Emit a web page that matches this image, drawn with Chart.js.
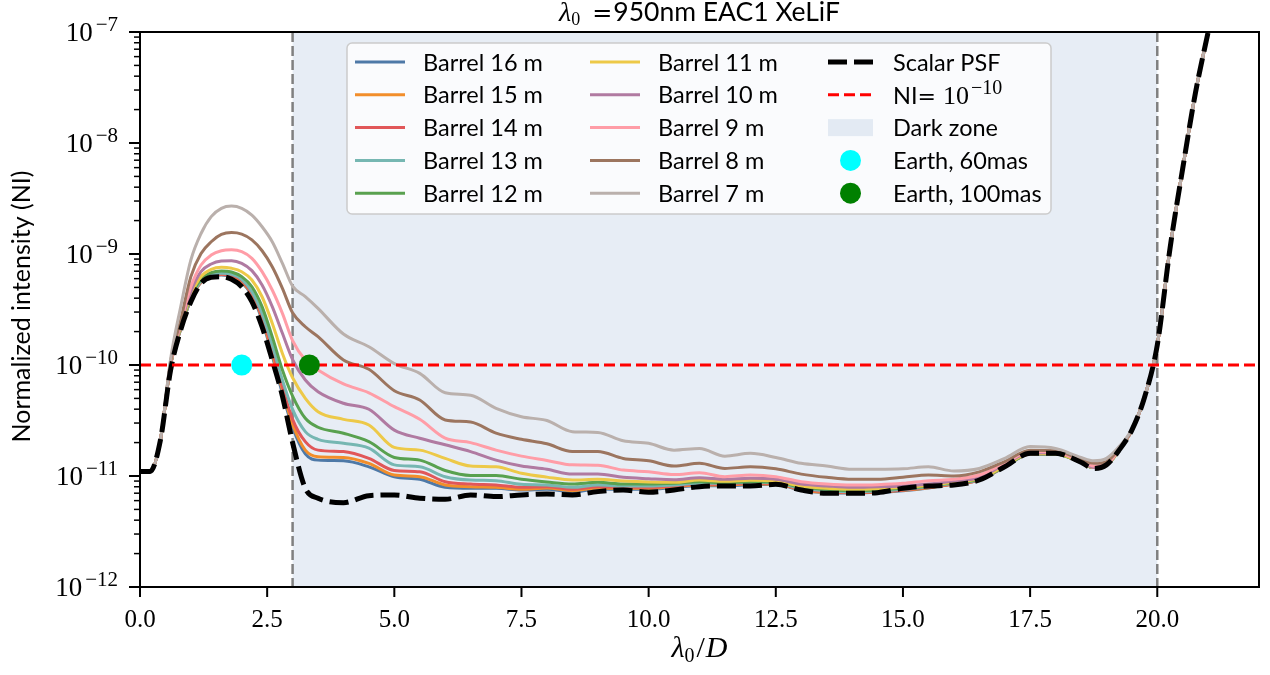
<!DOCTYPE html>
<html>
<head>
<meta charset="utf-8">
<title>EAC1 XeLiF barrel comparison</title>
<script src="https://cdn.jsdelivr.net/npm/chart.js@4"></script>
<style>
  html, body { margin: 0; padding: 0; background: #ffffff; }
  canvas { display: block; }
</style>
</head>
<body>
<canvas id="niChart" width="1270" height="675"></canvas>
<script>
// Separation in lambda0/D where every curve was read
const separation = [0, 0.2, 0.4, 0.6, 0.8, 1.0, 1.2, 1.4, 1.6, 1.8, 2.0, 2.2, 2.4, 2.6, 2.8, 3.0, 3.25, 3.5,
  4.0, 4.5, 5.0, 5.5, 6.0, 6.5, 7.0, 7.5, 8.0, 8.5, 9.0, 9.5, 10.0, 10.5, 11.0, 11.5, 12.0, 12.5, 13.0, 13.5,
  14.0, 14.5, 15.0, 15.5, 16.0, 16.5, 17.0, 17.5, 18.0, 18.5, 18.75, 19.0, 19.25, 19.5, 19.75, 20.0, 20.25,
  20.5, 20.75, 21.0, 21.25];

// Normalized intensity per curve
const scalarPSF = [1.10e-11, 1.10e-11, 2.09e-11, 8.91e-11, 2.07e-10, 3.72e-10, 5.44e-10, 6.17e-10, 6.25e-10, 5.92e-10,
  5.07e-10, 3.72e-10, 2.21e-10, 1.11e-10, 5.25e-11, 2.00e-11, 7.76e-12, 6.31e-12, 5.75e-12, 6.65e-12,
  6.75e-12, 6.31e-12, 6.17e-12, 6.75e-12, 6.52e-12, 6.75e-12, 6.89e-12, 6.75e-12, 7.23e-12, 7.48e-12,
  7.13e-12, 7.48e-12, 8.02e-12, 8.13e-12, 8.13e-12, 8.41e-12, 7.48e-12, 6.98e-12, 6.98e-12, 7.08e-12,
  7.74e-12, 8.13e-12, 8.30e-12, 9.20e-12, 1.21e-11, 1.60e-11, 1.60e-11, 1.33e-11, 1.17e-11, 1.26e-11,
  1.71e-11, 2.59e-11, 5.13e-11, 1.51e-10, 1.12e-9, 5.89e-9, 2.82e-8, 1.0e-7, 3.5e-7];

const barrel16 = [1.10e-11, 1.10e-11, 2.09e-11, 1.00e-10, 2.09e-10, 3.87e-10, 5.56e-10, 6.34e-10, 6.47e-10, 6.25e-10,
  5.56e-10, 4.25e-10, 2.54e-10, 1.21e-10, 5.56e-11, 2.75e-11, 1.58e-11, 1.39e-11, 1.37e-11, 1.21e-11,
  9.86e-12, 9.33e-12, 7.91e-12, 7.74e-12, 7.74e-12, 7.48e-12, 7.59e-12, 7.18e-12, 7.64e-12, 7.59e-12,
  7.59e-12, 7.91e-12, 8.18e-12, 8.18e-12, 8.36e-12, 8.41e-12, 7.43e-12, 7.08e-12, 7.03e-12, 7.13e-12,
  7.38e-12, 7.80e-12, 8.47e-12, 9.20e-12, 1.21e-11, 1.58e-11, 1.58e-11, 1.33e-11, 1.19e-11, 1.25e-11,
  1.71e-11, 2.59e-11, 5.13e-11, 1.51e-10, 1.12e-9, 5.89e-9, 2.82e-8, 1.0e-7, 3.5e-7];

const barrel15 = [1.10e-11, 1.10e-11, 2.09e-11, 1.00e-10, 2.11e-10, 3.91e-10, 5.60e-10, 6.38e-10, 6.52e-10, 6.34e-10,
  5.64e-10, 4.34e-10, 2.64e-10, 1.27e-10, 5.96e-11, 2.92e-11, 1.71e-11, 1.49e-11, 1.47e-11, 1.30e-11,
  1.02e-11, 9.86e-12, 8.30e-12, 8.02e-12, 7.91e-12, 7.59e-12, 7.80e-12, 7.38e-12, 7.80e-12, 7.74e-12,
  7.74e-12, 8.02e-12, 8.30e-12, 8.30e-12, 8.47e-12, 8.47e-12, 7.48e-12, 7.13e-12, 7.08e-12, 7.18e-12,
  7.43e-12, 7.85e-12, 8.47e-12, 9.20e-12, 1.21e-11, 1.58e-11, 1.58e-11, 1.33e-11, 1.19e-11, 1.25e-11,
  1.71e-11, 2.59e-11, 5.13e-11, 1.51e-10, 1.12e-9, 5.89e-9, 2.82e-8, 1.0e-7, 3.5e-7];

const barrel14 = [1.10e-11, 1.10e-11, 2.09e-11, 1.00e-10, 2.12e-10, 3.94e-10, 5.64e-10, 6.43e-10, 6.56e-10, 6.43e-10,
  5.75e-10, 4.43e-10, 2.72e-10, 1.36e-10, 6.38e-11, 3.24e-11, 2.04e-11, 1.71e-11, 1.66e-11, 1.44e-11,
  1.12e-11, 1.09e-11, 8.89e-12, 8.47e-12, 8.30e-12, 7.91e-12, 8.02e-12, 7.59e-12, 8.02e-12, 7.91e-12,
  7.91e-12, 8.13e-12, 8.41e-12, 8.41e-12, 8.59e-12, 8.59e-12, 7.59e-12, 7.23e-12, 7.13e-12, 7.23e-12,
  7.48e-12, 7.91e-12, 8.53e-12, 9.20e-12, 1.21e-11, 1.58e-11, 1.58e-11, 1.33e-11, 1.19e-11, 1.25e-11,
  1.71e-11, 2.59e-11, 5.13e-11, 1.51e-10, 1.12e-9, 5.89e-9, 2.82e-8, 1.0e-7, 3.5e-7];

const barrel13 = [1.10e-11, 1.10e-11, 2.09e-11, 1.00e-10, 2.14e-10, 3.99e-10, 5.71e-10, 6.52e-10, 6.70e-10, 6.56e-10,
  5.92e-10, 4.58e-10, 2.92e-10, 1.51e-10, 7.33e-11, 3.98e-11, 2.51e-11, 2.14e-11, 1.97e-11, 1.78e-11,
  1.26e-11, 1.21e-11, 9.86e-12, 9.20e-12, 9.08e-12, 8.41e-12, 8.30e-12, 7.91e-12, 8.30e-12, 8.13e-12,
  8.13e-12, 8.30e-12, 8.59e-12, 8.59e-12, 8.77e-12, 8.71e-12, 7.74e-12, 7.38e-12, 7.23e-12, 7.33e-12,
  7.59e-12, 8.02e-12, 8.59e-12, 9.27e-12, 1.21e-11, 1.59e-11, 1.58e-11, 1.33e-11, 1.19e-11, 1.25e-11,
  1.71e-11, 2.59e-11, 5.13e-11, 1.51e-10, 1.12e-9, 5.89e-9, 2.82e-8, 1.0e-7, 3.5e-7];

const barrel12 = [1.10e-11, 1.10e-11, 2.09e-11, 1.01e-10, 2.18e-10, 4.12e-10, 5.92e-10, 6.79e-10, 7.03e-10, 6.89e-10,
  6.25e-10, 5.07e-10, 3.36e-10, 1.80e-10, 9.02e-11, 5.25e-11, 3.31e-11, 2.75e-11, 2.43e-11, 2.04e-11,
  1.47e-11, 1.39e-11, 1.12e-11, 1.01e-11, 1.01e-11, 9.33e-12, 8.83e-12, 8.47e-12, 8.77e-12, 8.47e-12,
  8.47e-12, 8.59e-12, 8.89e-12, 8.71e-12, 8.89e-12, 8.83e-12, 7.91e-12, 7.59e-12, 7.38e-12, 7.48e-12,
  7.74e-12, 8.13e-12, 8.71e-12, 9.33e-12, 1.22e-11, 1.59e-11, 1.58e-11, 1.33e-11, 1.19e-11, 1.25e-11,
  1.71e-11, 2.59e-11, 5.13e-11, 1.51e-10, 1.12e-9, 5.89e-9, 2.82e-8, 1.0e-7, 3.5e-7];

const barrel11 = [1.10e-11, 1.10e-11, 2.09e-11, 1.01e-10, 2.21e-10, 4.28e-10, 6.25e-10, 7.28e-10, 7.59e-10, 7.43e-10,
  6.93e-10, 5.83e-10, 4.12e-10, 2.38e-10, 1.27e-10, 7.67e-11, 5.01e-11, 3.80e-11, 3.24e-11, 2.88e-11,
  1.81e-11, 1.71e-11, 1.44e-11, 1.23e-11, 1.21e-11, 1.06e-11, 9.77e-12, 9.20e-12, 9.33e-12, 9.02e-12,
  8.83e-12, 8.77e-12, 9.20e-12, 8.95e-12, 9.14e-12, 8.95e-12, 8.13e-12, 7.74e-12, 7.59e-12, 7.69e-12,
  7.91e-12, 8.24e-12, 8.83e-12, 9.46e-12, 1.23e-11, 1.60e-11, 1.59e-11, 1.34e-11, 1.19e-11, 1.25e-11,
  1.71e-11, 2.59e-11, 5.13e-11, 1.51e-10, 1.12e-9, 5.89e-9, 2.82e-8, 1.0e-7, 3.5e-7];

const barrel10 = [1.10e-11, 1.10e-11, 2.09e-11, 1.02e-10, 2.29e-10, 4.58e-10, 6.93e-10, 8.13e-10, 8.65e-10, 8.71e-10,
  8.24e-10, 7.08e-10, 5.26e-10, 3.36e-10, 1.93e-10, 1.12e-10, 7.33e-11, 5.75e-11, 4.52e-11, 3.99e-11,
  2.59e-11, 2.19e-11, 1.91e-11, 1.66e-11, 1.39e-11, 1.23e-11, 1.15e-11, 1.04e-11, 1.04e-11, 9.73e-12,
  9.46e-12, 9.27e-12, 9.66e-12, 9.33e-12, 9.53e-12, 9.33e-12, 8.47e-12, 8.13e-12, 7.91e-12, 8.02e-12,
  8.13e-12, 8.47e-12, 9.02e-12, 9.66e-12, 1.28e-11, 1.62e-11, 1.62e-11, 1.36e-11, 1.19e-11, 1.26e-11,
  1.73e-11, 2.59e-11, 5.13e-11, 1.51e-10, 1.12e-9, 5.89e-9, 2.82e-8, 1.0e-7, 3.5e-7];

const barrel9 = [1.10e-11, 1.10e-11, 2.09e-11, 1.03e-10, 2.38e-10, 5.07e-10, 7.96e-10, 9.79e-10, 1.07e-9, 1.09e-9,
  1.05e-9, 9.14e-10, 6.93e-10, 4.74e-10, 2.92e-10, 1.66e-10, 1.11e-10, 9.02e-11, 6.75e-11, 5.62e-11,
  4.21e-11, 3.24e-11, 2.19e-11, 2.00e-11, 1.71e-11, 1.51e-11, 1.38e-11, 1.26e-11, 1.25e-11, 1.13e-11,
  1.09e-11, 1.03e-11, 1.07e-11, 9.86e-12, 1.02e-11, 9.86e-12, 8.89e-12, 8.47e-12, 8.30e-12, 8.36e-12,
  8.59e-12, 9.08e-12, 9.33e-12, 1.02e-11, 1.30e-11, 1.66e-11, 1.64e-11, 1.37e-11, 1.23e-11, 1.28e-11,
  1.74e-11, 2.59e-11, 5.13e-11, 1.51e-10, 1.12e-9, 5.89e-9, 2.82e-8, 1.0e-7, 3.5e-7];

const barrel8 = [1.10e-11, 1.10e-11, 2.09e-11, 1.07e-10, 2.54e-10, 6.25e-10, 1.01e-9, 1.29e-9, 1.50e-9, 1.56e-9,
  1.51e-9, 1.34e-9, 1.07e-9, 7.69e-10, 4.91e-10, 2.95e-10, 2.21e-10, 1.80e-10, 1.11e-10, 9.14e-11,
  5.87e-11, 4.84e-11, 3.20e-11, 3.06e-11, 2.43e-11, 2.14e-11, 1.95e-11, 1.66e-11, 1.66e-11, 1.44e-11,
  1.37e-11, 1.23e-11, 1.30e-11, 1.17e-11, 1.21e-11, 1.16e-11, 1.04e-11, 9.73e-12, 9.33e-12, 9.33e-12,
  9.73e-12, 1.02e-11, 1.00e-11, 1.09e-11, 1.35e-11, 1.71e-11, 1.69e-11, 1.41e-11, 1.30e-11, 1.35e-11,
  1.77e-11, 2.59e-11, 5.13e-11, 1.51e-10, 1.12e-9, 5.89e-9, 2.82e-8, 1.0e-7, 3.5e-7];

const barrel7 = [1.10e-11, 1.10e-11, 2.09e-11, 1.12e-10, 3.35e-10, 8.83e-10, 1.53e-9, 2.17e-9, 2.58e-9, 2.70e-9,
  2.58e-9, 2.24e-9, 1.76e-9, 1.29e-9, 8.24e-10, 5.13e-10, 4.13e-10, 3.24e-10, 1.90e-10, 1.46e-10,
  1.03e-10, 8.41e-11, 5.62e-11, 5.33e-11, 4.07e-11, 3.42e-11, 3.16e-11, 2.51e-11, 2.47e-11, 2.08e-11,
  1.97e-11, 1.71e-11, 1.77e-11, 1.51e-11, 1.60e-11, 1.47e-11, 1.30e-11, 1.23e-11, 1.15e-11, 1.15e-11,
  1.16e-11, 1.21e-11, 1.11e-11, 1.17e-11, 1.44e-11, 1.84e-11, 1.77e-11, 1.47e-11, 1.37e-11, 1.44e-11,
  1.84e-11, 2.64e-11, 5.13e-11, 1.51e-10, 1.12e-9, 5.89e-9, 2.82e-8, 1.0e-7, 3.5e-7];

const barrelLabels = ['Barrel 16 m', 'Barrel 15 m', 'Barrel 14 m', 'Barrel 13 m', 'Barrel 12 m',
  'Barrel 11 m', 'Barrel 10 m', 'Barrel 9 m', 'Barrel 8 m', 'Barrel 7 m'];
const barrelValues = [barrel16, barrel15, barrel14, barrel13, barrel12, barrel11, barrel10, barrel9, barrel8, barrel7];
const barrelColors = ['#4e79a7', '#f28e2b', '#e15759', '#76b7b2', '#59a14f',
  '#edc948', '#b07aa1', '#ff9da7', '#9c755f', '#bab0ac'];

// Reference level, dark zone and planet positions
const niLevel = 1e-10;
const darkZone = [3, 20];
const earthLabels = ['Earth, 60mas', 'Earth, 100mas'];
const earthSeparation = [2.0, 3.33];
const earthColors = ['#00ffff', '#008000'];

// Axis ticks
const xTickValues = [0, 2.5, 5, 7.5, 10, 12.5, 15, 17.5, 20];
const yTickExponents = [-12, -11, -10, -9, -8, -7];

const SANS = 'Lato, "DejaVu Sans", sans-serif';
const SERIF = '"Liberation Serif", "DejaVu Serif", serif';
const MATHSYM = '"DejaVu Serif", serif';


function toPoints(xs, ys) {
    return xs.map(function (x, i) { return { x: x, y: ys[i] }; });
}

function buildDatasets() {
    var sets = [];
    // markers on top, then the NI level, the scalar PSF and the barrels
    for (var e = 0; e < earthLabels.length; e++) {
        sets.push({
            label: earthLabels[e],
            data: [{ x: earthSeparation[e], y: niLevel }],
            showLine: false,
            pointRadius: 10.5,
            pointBackgroundColor: earthColors[e],
            pointBorderWidth: 0,
            order: 0
        });
    }
    sets.push({
        label: 'NI level',
        data: [{ x: 0, y: niLevel }, { x: 22, y: niLevel }],
        borderColor: '#ff0000',
        borderWidth: 3,
        borderDash: [11, 5],
        pointRadius: 0,
        clip: 0,
        order: 1
    });
    sets.push({
        label: 'Scalar PSF',
        data: toPoints(separation, scalarPSF),
        borderColor: '#000000',
        borderWidth: 5,
        borderDash: [19, 7],
        borderCapStyle: 'butt',
        pointRadius: 0,
        cubicInterpolationMode: 'monotone',
        clip: 0,
        order: 2
    });
    for (var b = 0; b < barrelValues.length; b++) {
        sets.push({
            label: barrelLabels[b],
            data: toPoints(separation, barrelValues[b]),
            borderColor: barrelColors[b],
            borderWidth: 3,
            pointRadius: 0,
            cubicInterpolationMode: 'monotone',
            clip: 0,
            order: 12 - b  // Barrel 7 drawn above Barrel 16
        });
    }
    return sets;
}


// draws "10" with a superscript exponent, right edge at xRight
function drawPower(ctx, exponent, xRight, yMid, baseSize, supSize) {
    var base = '10', sup = '\u2212' + Math.abs(exponent);
    ctx.font = baseSize + 'px ' + SERIF;
    var wBase = ctx.measureText(base).width;
    ctx.font = supSize + 'px ' + SERIF;
    var wSup = ctx.measureText(sup).width;
    ctx.textAlign = 'left';
    ctx.textBaseline = 'alphabetic';
    ctx.font = baseSize + 'px ' + SERIF;
    ctx.fillText(base, xRight - wSup - wBase - 3, yMid + 9);
    ctx.font = supSize + 'px ' + SERIF;
    ctx.fillText(sup, xRight - wSup, yMid - 1);
}

// draws a row of text pieces, each {t, font, dy, gap}; returns width
function drawPieces(ctx, pieces, x, y, measureOnly) {
    var cx = x;
    ctx.textAlign = 'left';
    ctx.textBaseline = 'alphabetic';
    pieces.forEach(function (p) {
        ctx.font = p.font;
        if (!measureOnly) ctx.fillText(p.t, cx, y + (p.dy || 0));
        cx += ctx.measureText(p.t).width + (p.gap || 0);
    });
    return cx - x;
}

const backgroundPlugin = {
    id: 'darkZone',
    beforeDatasetsDraw: function (chart) {
        var ctx = chart.ctx, area = chart.chartArea, xs = chart.scales.x;
        var x0 = xs.getPixelForValue(darkZone[0]), x1 = xs.getPixelForValue(darkZone[1]);
        ctx.save();
        ctx.fillStyle = 'rgba(176,196,222,0.3)';
        ctx.fillRect(x0, area.top, x1 - x0, area.bottom - area.top);
        ctx.strokeStyle = '#808080';
        ctx.lineWidth = 2.5;
        ctx.setLineDash([10, 4]);
        [x0, x1].forEach(function (px) {
            ctx.beginPath();
            ctx.moveTo(px, area.top);
            ctx.lineTo(px, area.bottom);
            ctx.stroke();
        });
        ctx.restore();
    }
};

const axesPlugin = {
    id: 'mplAxes',
    afterDatasetsDraw: function (chart) {
        var ctx = chart.ctx, area = chart.chartArea;
        var xs = chart.scales.x, ys = chart.scales.y;
        ctx.save();
        ctx.fillStyle = '#000000';
        ctx.strokeStyle = '#000000';

        // spines
        ctx.lineWidth = 2;
        ctx.strokeRect(area.left, area.top, area.right - area.left, area.bottom - area.top);

        // x ticks and labels
        ctx.font = '25px ' + SERIF;
        ctx.textAlign = 'center';
        ctx.textBaseline = 'alphabetic';
        xTickValues.forEach(function (v) {
            var px = xs.getPixelForValue(v);
            ctx.lineWidth = 2;
            ctx.beginPath();
            ctx.moveTo(px, area.bottom);
            ctx.lineTo(px, area.bottom + 10);
            ctx.stroke();
            ctx.fillText(v.toFixed(1), px, area.bottom + 40);
        });

        // y ticks (major and minor) and labels
        yTickExponents.forEach(function (e) {
            var py = ys.getPixelForValue(Math.pow(10, e));
            ctx.lineWidth = 2;
            ctx.beginPath();
            ctx.moveTo(area.left - 11, py);
            ctx.lineTo(area.left, py);
            ctx.stroke();
            drawPower(ctx, e, area.left - 22, py, 27, 21);
            if (e < -7) {
                ctx.lineWidth = 1.5;
                for (var k = 2; k <= 9; k++) {
                    var pm = ys.getPixelForValue(k * Math.pow(10, e));
                    ctx.beginPath();
                    ctx.moveTo(area.left - 6, pm);
                    ctx.lineTo(area.left, pm);
                    ctx.stroke();
                }
            }
        });

        var midX = (area.left + area.right) / 2;

        // x axis title  lambda_0 / D
        var xt = [
            { t: '\u03bb', font: 'italic 30px ' + SERIF },
            { t: '0', font: '20px ' + SERIF, dy: 5, gap: 2 },
            { t: '/', font: '30px ' + SERIF, gap: 1 },
            { t: 'D', font: 'italic 30px ' + SERIF }
        ];
        var wx = drawPieces(ctx, xt, 0, 0, true);
        drawPieces(ctx, xt, midX - wx / 2, 657);

        // y axis title
        ctx.save();
        ctx.translate(22, (area.top + area.bottom) / 2 - 3);
        ctx.rotate(-Math.PI / 2);
        ctx.font = '25px ' + SANS;
        ctx.textAlign = 'center';
        ctx.textBaseline = 'middle';
        ctx.fillText('Normalized intensity (NI)', 0, 0);
        ctx.restore();

        // chart title
        var tt = [
            { t: '\u03bb', font: 'italic 28px ' + SERIF },
            { t: '0', font: '18px ' + SERIF, dy: 4, gap: 12 },
            { t: '=', font: '24px ' + MATHSYM, gap: 1 },
            { t: '950nm EAC1 XeLiF', font: '26.5px ' + SANS }
        ];
        var wt = drawPieces(ctx, tt, 0, 0, true);
        drawPieces(ctx, tt, midX - wt / 2, 21);

        drawLegend(chart);
        ctx.restore();
    }
};

function drawLegend(chart) {
    var ctx = chart.ctx;
    var box = { x: 347, y: 43, w: 704, h: 171 };
    ctx.save();
    ctx.fillStyle = 'rgba(255,255,255,0.8)';
    ctx.strokeStyle = '#cccccc';
    ctx.lineWidth = 1.5;
    ctx.beginPath();
    ctx.roundRect(box.x, box.y, box.w, box.h, 5);
    ctx.fill();
    ctx.stroke();

    var rowY = [62, 94.8, 127.6, 160.4, 193.2];
    var cols = [{ h0: 355, h1: 405, tx: 423 }, { h0: 590, h1: 640, tx: 658 }, { h0: 828, h1: 873, tx: 893 }];

    function label(text, x, y) {
        ctx.fillStyle = '#000000';
        ctx.font = '23.5px ' + SANS;
        ctx.textAlign = 'left';
        ctx.textBaseline = 'middle';
        ctx.fillText(text, x, y + 1);
    }
    function handleLine(col, y, color, width, dash) {
        ctx.strokeStyle = color;
        ctx.lineWidth = width;
        ctx.setLineDash(dash);
        ctx.lineCap = 'butt';
        ctx.beginPath();
        ctx.moveTo(col.h0, y);
        ctx.lineTo(col.h1, y);
        ctx.stroke();
        ctx.setLineDash([]);
    }

    for (var b = 0; b < barrelLabels.length; b++) {
        var col = cols[Math.floor(b / 5)], y = rowY[b % 5];
        handleLine(col, y, barrelColors[b], 3, []);
        label(barrelLabels[b], col.tx, y);
    }
    var c3 = cols[2];
    handleLine(c3, rowY[0], '#000000', 5, [19, 7]);
    label('Scalar PSF', c3.tx, rowY[0]);

    handleLine(c3, rowY[1], '#ff0000', 3, [11, 5]);
    ctx.fillStyle = '#000000';
    drawPieces(ctx, [
        { t: 'NI', font: '23.5px ' + SANS },
        { t: '=', font: '22px ' + MATHSYM, gap: 7 },
        { t: '10', font: '26px ' + SERIF, gap: 2 },
        { t: '\u221210', font: '20px ' + SERIF, dy: -10 }
    ], c3.tx, rowY[1] + 9);

    ctx.fillStyle = 'rgba(176,196,222,0.3)';
    ctx.fillRect(c3.h0, rowY[2] - 8.5, c3.h1 - c3.h0, 17);
    label('Dark zone', c3.tx, rowY[2]);

    for (var e = 0; e < earthLabels.length; e++) {
        var ey = rowY[3 + e];
        ctx.fillStyle = earthColors[e];
        ctx.beginPath();
        ctx.arc((c3.h0 + c3.h1) / 2, ey, 10.5, 0, Math.PI * 2);
        ctx.fill();
        label(earthLabels[e], c3.tx, ey);
    }
    ctx.restore();
}


function initializeChart() {
    const ctx = document.getElementById('niChart').getContext('2d');
    new Chart(ctx, {
        type: 'line',
        data: { datasets: buildDatasets() },
        options: {
            responsive: false,
            animation: false,
            devicePixelRatio: 1,
            events: [],
            layout: { padding: { top: 32, right: 11, left: 0, bottom: 0 } },
            plugins: { legend: { display: false }, tooltip: { enabled: false }, title: { display: false } },
            scales: {
                x: {
                    type: 'linear', min: 0, max: 22,
                    grid: { display: false }, border: { display: false }, ticks: { display: false },
                    afterFit: function (s) { s.height = 88; }
                },
                y: {
                    type: 'logarithmic', min: 1e-12, max: 1e-7,
                    grid: { display: false }, border: { display: false }, ticks: { display: false },
                    afterFit: function (s) { s.width = 140; }
                }
            }
        },
        plugins: [backgroundPlugin, axesPlugin]
    });
}

document.addEventListener('DOMContentLoaded', initializeChart);
</script>
</body>
</html>
